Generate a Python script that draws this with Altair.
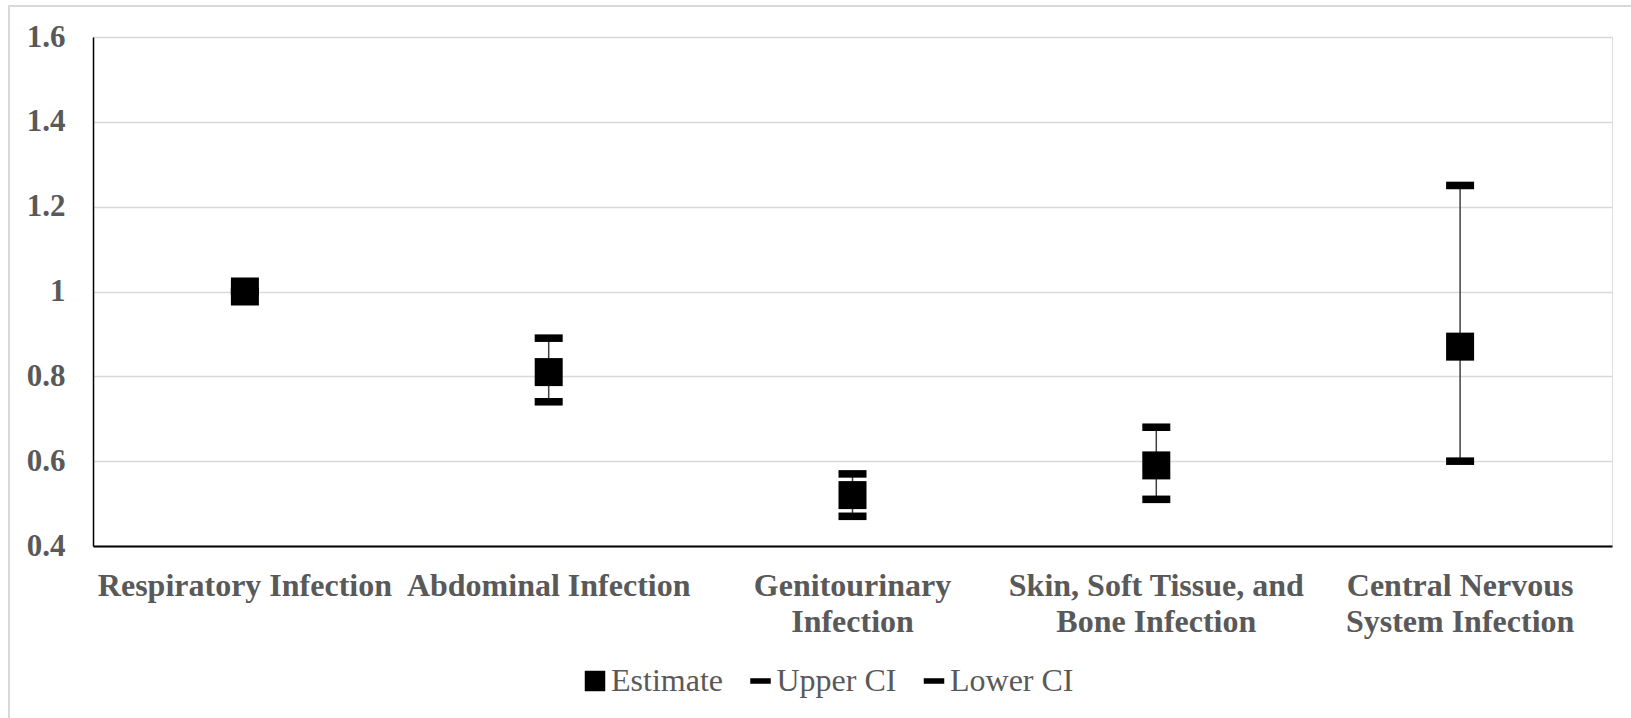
import altair as alt
import pandas as pd

categories = [
    "Respiratory Infection",
    "Abdominal Infection",
    "Genitourinary|Infection",
    "Skin, Soft Tissue, and|Bone Infection",
    "Central Nervous|System Infection",
]
estimate = [1.00, 0.81, 0.52, 0.59, 0.87]
upper_ci = [1.00, 0.89, 0.57, 0.68, 1.25]
lower_ci = [1.00, 0.74, 0.47, 0.51, 0.60]
y_ticks = [0.4, 0.6, 0.8, 1.0, 1.2, 1.4, 1.6]
series = ["Estimate", "Upper CI", "Lower CI"]

wide = pd.DataFrame({"cat": categories, "est": estimate, "up": upper_ci, "lo": lower_ci})
rows = []
for s, col in [("Upper CI", upper_ci), ("Lower CI", lower_ci), ("Estimate", estimate)]:
    for c, v in zip(categories, col):
        rows.append({"cat": c, "series": s, "value": v})
long = pd.DataFrame(rows)

FONT = "Liberation Serif"
GRAY = "#595959"
DASH = "M-1,-0.27L1,-0.27L1,0.27L-1,0.27Z"

x_enc = alt.X(
    "cat:N",
    sort=categories,
    scale=alt.Scale(paddingInner=0, paddingOuter=0),
    axis=alt.Axis(
        title=None,
        labelAngle=0,
        labelExpr="split(datum.value, '|')",
        labelFont=FONT,
        labelFontSize=32,
        labelFontWeight="bold",
        labelColor=GRAY,
        labelPadding=24,
        labelBaseline="top",
        labelLineHeight=36,
        ticks=False,
        tickSize=0,
        domainColor="black",
        domainWidth=2,
        grid=False,
        labelLimit=400,
    ),
)
y_scale = alt.Scale(domain=[0.4, 1.6], nice=False, zero=False)

rules = alt.Chart(wide).mark_rule(color="#404040", strokeWidth=1.5).encode(
    x=x_enc,
    y=alt.Y(
        "lo:Q",
        scale=y_scale,
        axis=alt.Axis(
            title=None,
            values=y_ticks,
            format=".1~f",
            labelFont=FONT,
            labelFontSize=31,
            labelFontWeight="bold",
            labelColor=GRAY,
            labelPadding=28,
            ticks=False,
            tickSize=0,
            domainColor="black",
            domainWidth=1.5,
            gridColor="#d9d9d9",
            gridWidth=1.5,
        ),
    ),
    y2="up:Q",
)

points = alt.Chart(long).mark_point(filled=True, color="black", size=784, opacity=1, strokeWidth=0).encode(
    x=alt.X("cat:N", sort=categories),
    y=alt.Y("value:Q", scale=y_scale),
    shape=alt.Shape(
        "series:N",
        scale=alt.Scale(domain=series, range=["square", DASH, DASH]),
        legend=alt.Legend(
            title=None,
            orient="none",
            direction="horizontal",
            legendX=486,
            legendY=628,
            labelFont=FONT,
            labelFontSize=32,
            labelColor=GRAY,
            labelOffset=0,
            columnPadding=21.5,
            symbolSize=420,
            symbolFillColor="black",
            symbolStrokeWidth=0,
            symbolOpacity=1,
            labelLimit=300,
        ),
    ),
)

frame = alt.Chart(wide).mark_rect(fill=None, stroke="#d9d9d9", strokeWidth=2).encode(
    x=alt.value(9 - 93),
    x2=alt.value(1631 + 20 - 93),
    y=alt.value(6 - 37),
    y2=alt.value(718 + 20 - 37),
)

chart = (
    alt.layer(frame, rules, points)
    .properties(
        width=1519,
        height=509,
        autosize=alt.AutoSizeParams(type="none"),
        padding={"left": 93, "top": 37, "right": 19, "bottom": 172},
        background="white",
    )
    .configure_view(stroke=None)
    .configure_legend(labelFont=FONT, labelFontSize=32, labelColor=GRAY)
    .configure(font=FONT)
)

chart.save("out.html", embed_options={"renderer": "svg", "actions": False})
